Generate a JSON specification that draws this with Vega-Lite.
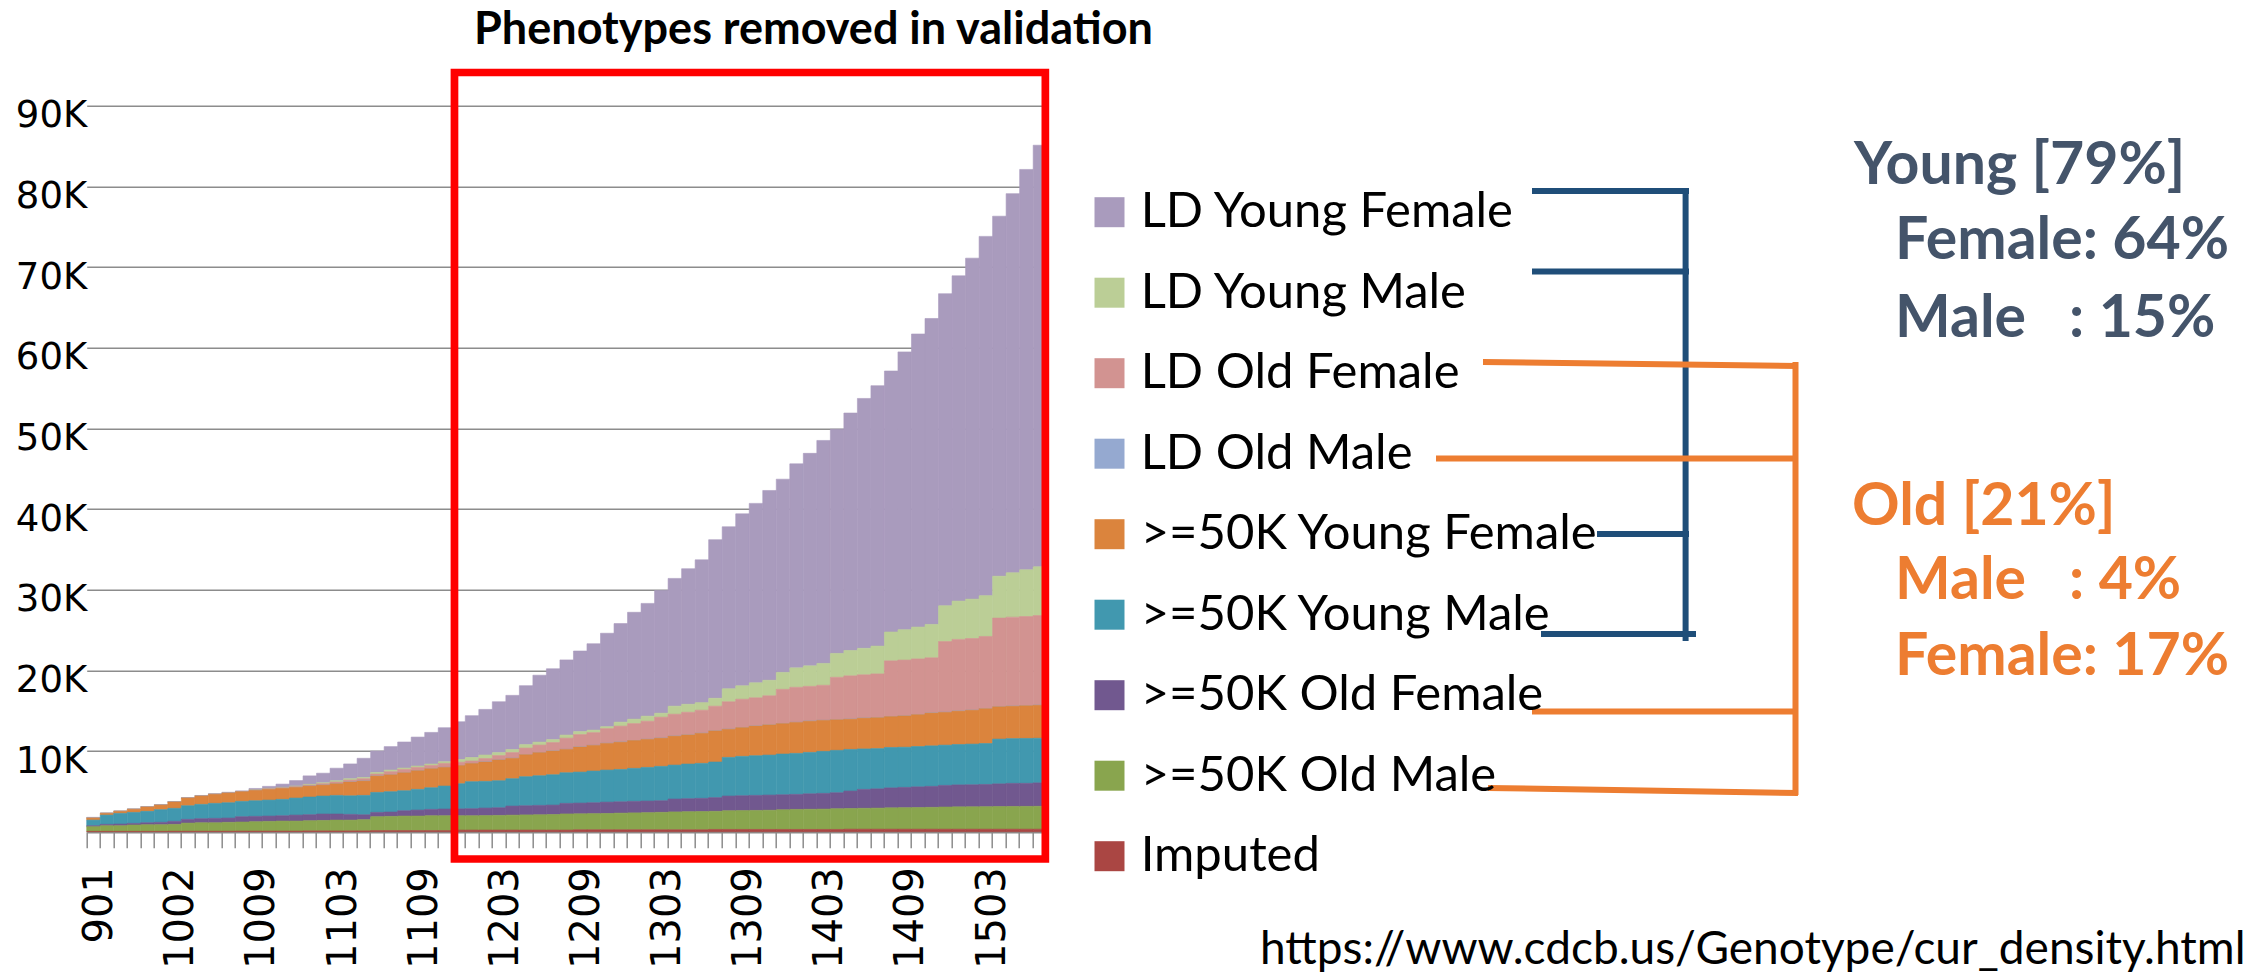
{
  "$schema": "https://vega.github.io/schema/vega-lite/v6.json",
  "width": 960,
  "height": 726,
  "autosize": {"type": "none"},
  "padding": {"left": 86.7, "top": 105.7, "right": 1207.3, "bottom": 143.3},
  "background": "white",
  "config": {"view": {"stroke": null}},
  "title": {"text": "Phenotypes removed in validation", "font": "Lato", "fontSize": 45, "fontWeight": "bold", "color": "#000000", "anchor": "start", "align": "center", "dx": 726.8, "offset": 16, "frame": "group"},
  "datasets": {
    "evals": [
      {"p":901,"LD Young Female":50,"LD Young Male":20,"LD Old Female":15,"LD Old Male":5,">=50K Young Female":250,">=50K Young Male":700,">=50K Old Female":120,">=50K Old Male":580,"Imputed":40},
      {"p":903,"LD Young Female":20,"LD Young Male":10,"LD Old Female":5,"LD Old Male":5,">=50K Young Female":210,">=50K Young Male":1150,">=50K Old Female":170,">=50K Old Male":700,"Imputed":40},
      {"p":905,"LD Young Female":30,"LD Young Male":10,"LD Old Female":5,"LD Old Male":5,">=50K Young Female":250,">=50K Young Male":1320,">=50K Old Female":210,">=50K Old Male":700,"Imputed":40},
      {"p":908,"LD Young Female":30,"LD Young Male":10,"LD Old Female":5,"LD Old Male":5,">=50K Young Female":380,">=50K Young Male":1360,">=50K Old Female":200,">=50K Old Male":790,"Imputed":40},
      {"p":910,"LD Young Female":30,"LD Young Male":10,"LD Old Female":5,"LD Old Male":5,">=50K Young Female":540,">=50K Young Male":1410,">=50K Old Female":240,">=50K Old Male":830,"Imputed":40},
      {"p":912,"LD Young Female":40,"LD Young Male":10,"LD Old Female":5,"LD Old Male":5,">=50K Young Female":570,">=50K Young Male":1570,">=50K Old Female":290,">=50K Old Male":830,"Imputed":40},
      {"p":1002,"LD Young Female":40,"LD Young Male":10,"LD Old Female":5,"LD Old Male":5,">=50K Young Female":790,">=50K Young Male":1610,">=50K Old Female":370,">=50K Old Male":850,"Imputed":60},
      {"p":1003,"LD Young Female":40,"LD Young Male":10,"LD Old Female":5,"LD Old Male":5,">=50K Young Female":950,">=50K Young Male":1690,">=50K Old Female":460,">=50K Old Male":1010,"Imputed":60},
      {"p":1004,"LD Young Female":50,"LD Young Male":10,"LD Old Female":5,"LD Old Male":5,">=50K Young Female":1030,">=50K Young Male":1780,">=50K Old Female":500,">=50K Old Male":1050,"Imputed":60},
      {"p":1005,"LD Young Female":60,"LD Young Male":10,"LD Old Female":5,"LD Old Male":5,">=50K Young Female":1120,">=50K Young Male":1860,">=50K Old Female":540,">=50K Old Male":1050,"Imputed":60},
      {"p":1006,"LD Young Female":80,"LD Young Male":10,"LD Old Female":5,"LD Old Male":5,">=50K Young Female":1200,">=50K Young Male":1900,">=50K Old Female":530,">=50K Old Male":1100,"Imputed":60},
      {"p":1008,"LD Young Female":70,"LD Young Male":20,"LD Old Female":5,"LD Old Male":5,">=50K Young Female":1200,">=50K Young Male":1900,">=50K Old Female":660,">=50K Old Male":1120,"Imputed":80},
      {"p":1009,"LD Young Female":180,"LD Young Male":30,"LD Old Female":25,"LD Old Male":5,">=50K Young Female":1280,">=50K Young Male":1940,">=50K Old Female":660,">=50K Old Male":1160,"Imputed":80},
      {"p":1010,"LD Young Female":240,"LD Young Male":50,"LD Old Female":75,"LD Old Male":5,">=50K Young Female":1330,">=50K Young Male":1980,">=50K Old Female":660,">=50K Old Male":1200,"Imputed":80},
      {"p":1011,"LD Young Female":400,"LD Young Male":60,"LD Old Female":65,"LD Old Male":5,">=50K Young Female":1360,">=50K Young Male":2030,">=50K Old Female":660,">=50K Old Male":1240,"Imputed":80},
      {"p":1012,"LD Young Female":680,"LD Young Male":80,"LD Old Female":85,"LD Old Male":5,">=50K Young Female":1320,">=50K Young Male":2110,">=50K Old Female":740,">=50K Old Male":1240,"Imputed":80},
      {"p":1101,"LD Young Female":1050,"LD Young Male":90,"LD Old Female":115,"LD Old Male":5,">=50K Young Female":1360,">=50K Young Male":2190,">=50K Old Female":750,">=50K Old Male":1260,"Imputed":100},
      {"p":1102,"LD Young Female":1180,"LD Young Male":120,"LD Old Female":165,"LD Old Male":5,">=50K Young Female":1360,">=50K Young Male":2230,">=50K Old Female":790,">=50K Old Male":1300,"Imputed":100},
      {"p":1103,"LD Young Female":1550,"LD Young Male":160,"LD Old Female":205,"LD Old Male":5,">=50K Young Female":1450,">=50K Young Male":2310,">=50K Old Female":750,">=50K Old Male":1340,"Imputed":100},
      {"p":1104,"LD Young Female":1830,"LD Young Male":170,"LD Old Female":235,"LD Old Male":5,">=50K Young Female":1710,">=50K Young Male":2300,">=50K Old Female":710,">=50K Old Male":1340,"Imputed":100},
      {"p":1105,"LD Young Female":2370,"LD Young Male":160,"LD Old Female":285,"LD Old Male":5,">=50K Young Female":1780,">=50K Young Male":2400,">=50K Old Female":610,">=50K Old Male":1390,"Imputed":100},
      {"p":1106,"LD Young Female":2650,"LD Young Male":200,"LD Old Female":245,"LD Old Male":5,">=50K Young Female":2030,">=50K Young Male":2480,">=50K Old Female":530,">=50K Old Male":1720,"Imputed":140},
      {"p":1107,"LD Young Female":2910,"LD Young Male":200,"LD Old Female":375,"LD Old Male":5,">=50K Young Female":2100,">=50K Young Male":2520,">=50K Old Female":540,">=50K Old Male":1760,"Imputed":140},
      {"p":1108,"LD Young Female":3230,"LD Young Male":160,"LD Old Female":415,"LD Old Male":5,">=50K Young Female":2230,">=50K Young Male":2480,">=50K Old Female":660,">=50K Old Male":1800,"Imputed":140},
      {"p":1109,"LD Young Female":3590,"LD Young Male":170,"LD Old Female":405,"LD Old Male":5,">=50K Young Female":2310,">=50K Young Male":2570,">=50K Old Female":740,">=50K Old Male":1800,"Imputed":140},
      {"p":1110,"LD Young Female":3920,"LD Young Male":170,"LD Old Female":405,"LD Old Male":5,">=50K Young Female":2360,">=50K Young Male":2680,">=50K Old Female":790,">=50K Old Male":1840,"Imputed":140},
      {"p":1111,"LD Young Female":4210,"LD Young Male":210,"LD Old Female":495,"LD Old Male":5,">=50K Young Female":2310,">=50K Young Male":2850,">=50K Old Female":830,">=50K Old Male":1840,"Imputed":140},
      {"p":1112,"LD Young Female":4680,"LD Young Male":330,"LD Old Female":415,"LD Old Male":5,">=50K Young Female":2250,">=50K Young Male":3120,">=50K Old Female":850,">=50K Old Male":1780,"Imputed":200},
      {"p":1201,"LD Young Female":5180,"LD Young Male":430,"LD Old Female":315,"LD Old Male":5,">=50K Young Female":2250,">=50K Young Male":3350,">=50K Old Female":870,">=50K Old Male":1780,"Imputed":200},
      {"p":1202,"LD Young Female":5650,"LD Young Male":440,"LD Old Female":425,"LD Old Male":5,">=50K Young Female":2400,">=50K Young Male":3310,">=50K Old Female":930,">=50K Old Male":1800,"Imputed":200},
      {"p":1203,"LD Young Female":6300,"LD Young Male":370,"LD Old Female":535,"LD Old Male":5,">=50K Young Female":2580,">=50K Young Male":3350,">=50K Old Female":950,">=50K Old Male":1820,"Imputed":200},
      {"p":1204,"LD Young Female":6710,"LD Young Male":380,"LD Old Female":705,"LD Old Male":5,">=50K Young Female":2530,">=50K Young Male":3390,">=50K Old Female":1130,">=50K Old Male":1850,"Imputed":200},
      {"p":1205,"LD Young Female":7300,"LD Young Male":430,"LD Old Female":815,"LD Old Male":5,">=50K Young Female":2730,">=50K Young Male":3600,">=50K Old Female":1140,">=50K Old Male":1880,"Imputed":200},
      {"p":1206,"LD Young Female":8290,"LD Young Male":370,"LD Old Female":935,"LD Old Male":5,">=50K Young Female":2860,">=50K Young Male":3680,">=50K Old Female":1160,">=50K Old Male":1900,"Imputed":200},
      {"p":1207,"LD Young Female":8780,"LD Young Male":370,"LD Old Female":1045,"LD Old Male":5,">=50K Young Female":2940,">=50K Young Male":3760,">=50K Old Female":1170,">=50K Old Male":1930,"Imputed":200},
      {"p":1208,"LD Young Female":9320,"LD Young Male":380,"LD Old Female":1395,"LD Old Male":5,">=50K Young Female":2890,">=50K Young Male":3800,">=50K Old Female":1310,">=50K Old Male":2000,"Imputed":200},
      {"p":1209,"LD Young Female":9990,"LD Young Male":370,"LD Old Female":1535,"LD Old Male":5,">=50K Young Female":3110,">=50K Young Male":3840,">=50K Old Female":1330,">=50K Old Male":1980,"Imputed":240},
      {"p":1210,"LD Young Female":10710,"LD Young Male":310,"LD Old Female":1575,"LD Old Male":5,">=50K Young Female":3180,">=50K Young Male":3930,">=50K Old Female":1350,">=50K Old Male":2000,"Imputed":240},
      {"p":1211,"LD Young Female":11580,"LD Young Male":240,"LD Old Female":1825,"LD Old Male":5,">=50K Young Female":3310,">=50K Young Male":3970,">=50K Old Female":1410,">=50K Old Male":2020,"Imputed":240},
      {"p":1212,"LD Young Female":12220,"LD Young Male":490,"LD Old Female":1985,"LD Old Male":5,">=50K Young Female":3380,">=50K Young Male":4010,">=50K Old Female":1410,">=50K Old Male":2060,"Imputed":240},
      {"p":1301,"LD Young Female":13250,"LD Young Male":550,"LD Old Female":2095,"LD Old Male":5,">=50K Young Female":3450,">=50K Young Male":4090,">=50K Old Female":1430,">=50K Old Male":2090,"Imputed":240},
      {"p":1302,"LD Young Female":13980,"LD Young Male":620,"LD Old Female":2245,"LD Old Male":5,">=50K Young Female":3480,">=50K Young Male":4170,">=50K Old Female":1440,">=50K Old Male":2120,"Imputed":240},
      {"p":1303,"LD Young Female":15210,"LD Young Male":490,"LD Old Female":2595,"LD Old Male":5,">=50K Young Female":3500,">=50K Young Male":4260,">=50K Old Female":1440,">=50K Old Male":2160,"Imputed":240},
      {"p":1304,"LD Young Female":15840,"LD Young Male":990,"LD Old Female":2715,"LD Old Male":5,">=50K Young Female":3590,">=50K Young Male":4210,">=50K Old Female":1600,">=50K Old Male":2210,"Imputed":240},
      {"p":1305,"LD Young Female":16800,"LD Young Male":990,"LD Old Female":2805,"LD Old Male":5,">=50K Young Female":3610,">=50K Young Male":4300,">=50K Old Female":1610,">=50K Old Male":2240,"Imputed":240},
      {"p":1306,"LD Young Female":17700,"LD Young Male":940,"LD Old Female":2855,"LD Old Male":5,">=50K Young Female":3730,">=50K Young Male":4340,">=50K Old Female":1630,">=50K Old Male":2260,"Imputed":240},
      {"p":1307,"LD Young Female":19660,"LD Young Male":980,"LD Old Female":3055,"LD Old Male":5,">=50K Young Female":3860,">=50K Young Male":4420,">=50K Old Female":1690,">=50K Old Male":2250,"Imputed":280},
      {"p":1308,"LD Young Female":20080,"LD Young Male":1610,"LD Old Female":3405,"LD Old Male":5,">=50K Young Female":3490,">=50K Young Male":4790,">=50K Old Female":1820,">=50K Old Male":2320,"Imputed":280},
      {"p":1309,"LD Young Female":21310,"LD Young Male":1670,"LD Old Female":3515,"LD Old Male":5,">=50K Young Female":3560,">=50K Young Male":4880,">=50K Old Female":1840,">=50K Old Male":2340,"Imputed":280},
      {"p":1310,"LD Young Female":22240,"LD Young Male":1860,"LD Old Female":3495,"LD Old Male":5,">=50K Young Female":3680,">=50K Young Male":4920,">=50K Old Female":1860,">=50K Old Male":2360,"Imputed":280},
      {"p":1311,"LD Young Female":23530,"LD Young Male":1920,"LD Old Female":3595,"LD Old Male":5,">=50K Young Female":3750,">=50K Young Male":4960,">=50K Old Female":1880,">=50K Old Male":2380,"Imputed":280},
      {"p":1312,"LD Young Female":23950,"LD Young Male":2100,"LD Old Female":4245,"LD Old Male":5,">=50K Young Female":3770,">=50K Young Male":5050,">=50K Old Female":1860,">=50K Old Male":2440,"Imputed":280},
      {"p":1401,"LD Young Female":25290,"LD Young Male":2410,"LD Old Female":4345,"LD Old Male":5,">=50K Young Female":3840,">=50K Young Male":5080,">=50K Old Female":1870,">=50K Old Male":2480,"Imputed":280},
      {"p":1402,"LD Young Female":26340,"LD Young Male":2540,"LD Old Female":4315,"LD Old Male":5,">=50K Young Female":3870,">=50K Young Male":5130,">=50K Old Female":1920,">=50K Old Male":2500,"Imputed":280},
      {"p":1403,"LD Young Female":27640,"LD Young Male":2710,"LD Old Female":4345,"LD Old Male":5,">=50K Young Female":3840,">=50K Young Male":5210,">=50K Old Female":1950,">=50K Old Male":2520,"Imputed":280},
      {"p":1404,"LD Young Female":27800,"LD Young Male":2960,"LD Old Female":5255,"LD Old Male":5,">=50K Young Female":3800,">=50K Young Male":5250,">=50K Old Female":1980,">=50K Old Male":2570,"Imputed":280},
      {"p":1405,"LD Young Female":29430,"LD Young Male":3150,"LD Old Female":5365,"LD Old Male":5,">=50K Young Female":3750,">=50K Young Male":5160,">=50K Old Female":2160,">=50K Old Male":2570,"Imputed":310},
      {"p":1406,"LD Young Female":30980,"LD Young Male":3280,"LD Old Female":5365,"LD Old Male":5,">=50K Young Female":3820,">=50K Young Male":5010,">=50K Old Female":2350,">=50K Old Male":2590,"Imputed":310},
      {"p":1407,"LD Young Female":32280,"LD Young Male":3450,"LD Old Female":5425,"LD Old Male":5,">=50K Young Female":3830,">=50K Young Male":4990,">=50K Old Female":2390,">=50K Old Male":2610,"Imputed":310},
      {"p":1408,"LD Young Female":32350,"LD Young Male":3580,"LD Old Female":6905,"LD Old Male":5,">=50K Young Female":3830,">=50K Young Male":5010,">=50K Old Female":2470,">=50K Old Male":2650,"Imputed":310},
      {"p":1409,"LD Young Female":34440,"LD Young Male":3760,"LD Old Female":6915,"LD Old Male":5,">=50K Young Female":3890,">=50K Young Male":4980,">=50K Old Female":2510,">=50K Old Male":2670,"Imputed":310},
      {"p":1410,"LD Young Female":36330,"LD Young Male":3950,"LD Old Female":6905,"LD Old Male":5,">=50K Young Female":3950,">=50K Young Male":5000,">=50K Old Female":2560,">=50K Old Male":2690,"Imputed":310},
      {"p":1411,"LD Young Female":37920,"LD Young Male":4140,"LD Old Female":6845,"LD Old Male":5,">=50K Young Female":4070,">=50K Young Male":5020,">=50K Old Female":2600,">=50K Old Male":2710,"Imputed":310},
      {"p":1412,"LD Young Female":38680,"LD Young Male":4440,"LD Old Female":8765,"LD Old Male":5,">=50K Young Female":4070,">=50K Young Male":4990,">=50K Old Female":2680,">=50K Old Male":2750,"Imputed":310},
      {"p":1501,"LD Young Female":40320,"LD Young Male":4750,"LD Old Female":8885,"LD Old Male":5,">=50K Young Female":4140,">=50K Young Male":5010,">=50K Old Female":2720,">=50K Old Male":2770,"Imputed":310},
      {"p":1502,"LD Young Female":42270,"LD Young Male":4880,"LD Old Female":8885,"LD Old Male":5,">=50K Young Female":4200,">=50K Young Male":5040,">=50K Old Female":2730,">=50K Old Male":2780,"Imputed":310},
      {"p":1503,"LD Young Female":44540,"LD Young Male":5060,"LD Old Female":8945,"LD Old Male":5,">=50K Young Female":4320,">=50K Young Male":5070,">=50K Old Female":2760,">=50K Old Male":2790,"Imputed":310},
      {"p":1504,"LD Young Female":44630,"LD Young Male":5190,"LD Old Female":10985,"LD Old Male":5,">=50K Young Female":4010,">=50K Young Male":5550,">=50K Old Female":2810,">=50K Old Male":2810,"Imputed":310},
      {"p":1505,"LD Young Female":47000,"LD Young Male":5500,"LD Old Female":11035,"LD Old Male":5,">=50K Young Female":4020,">=50K Young Male":5550,">=50K Old Female":2860,">=50K Old Male":2820,"Imputed":310},
      {"p":1506,"LD Young Female":49630,"LD Young Male":5800,"LD Old Female":11045,"LD Old Male":5,">=50K Young Female":4060,">=50K Young Male":5560,">=50K Old Female":2860,">=50K Old Male":2830,"Imputed":310},
      {"p":1507,"LD Young Female":52260,"LD Young Male":6050,"LD Old Female":11105,"LD Old Male":5,">=50K Young Female":4100,">=50K Young Male":5530,">=50K Old Female":2900,">=50K Old Male":2840,"Imputed":310}
    ],
    "brackets": [
      {"group":"young","x":1532,"x2":1689,"y":191,"y2":191},
      {"group":"young","x":1532,"x2":1689,"y":271.5,"y2":271.5},
      {"group":"young","x":1597,"x2":1689,"y":534,"y2":534},
      {"group":"young","x":1541,"x2":1696,"y":634,"y2":634},
      {"group":"young","x":1685.6,"x2":1685.6,"y":188,"y2":641},
      {"group":"old","x":1483,"x2":1798,"y":362,"y2":366},
      {"group":"old","x":1436,"x2":1798,"y":458.5,"y2":458.5},
      {"group":"old","x":1532,"x2":1798,"y":711.5,"y2":711.5},
      {"group":"old","x":1488,"x2":1798,"y":788,"y2":793},
      {"group":"old","x":1795.5,"x2":1795.5,"y":362,"y2":795}
    ],
    "notes": [
      {"group":"young","t":"Young [79%]","x":1854,"y":166},
      {"group":"young","t":"Female: 64%","x":1895,"y":241},
      {"group":"young","t":"Male\u00a0\u00a0\u00a0: 15%","x":1895,"y":319},
      {"group":"old","t":"Old [21%]","x":1852,"y":507},
      {"group":"old","t":"Male\u00a0\u00a0\u00a0: 4%","x":1895,"y":581},
      {"group":"old","t":"Female: 17%","x":1895,"y":657},
      {"group":"source","t":"https://www.cdcb.us/Genotype/cur_density.html","x":1260,"y":964}
    ]
  },
  "layer": [
    {
      "layer": [
        {
          "data": {"name": "evals"},
          "transform": [
            {"fold": ["LD Young Female","LD Young Male","LD Old Female","LD Old Male",">=50K Young Female",">=50K Young Male",">=50K Old Female",">=50K Old Male","Imputed"], "as": ["series","count"]},
            {"calculate": "indexof(['Imputed','>=50K Old Male','>=50K Old Female','>=50K Young Male','>=50K Young Female','LD Old Male','LD Old Female','LD Young Male','LD Young Female'], datum.series)", "as": "stack_rank"}
          ],
          "mark": {"type": "bar", "strokeWidth": 0.6},
          "encoding": {
            "x": {
              "field": "p", "type": "ordinal",
              "scale": {"type": "band", "paddingInner": 0, "paddingOuter": 0},
              "axis": {
                "title": null, "bandPosition": 0, "labelOffset": 6.76, "labelAngle": -90,
                "labelFont": "DejaVu Sans", "labelFontSize": 40, "labelColor": "#000000", "labelPadding": 19,
                "labelOverlap": false, "labelBound": false, "labelFlush": false,
                "labelExpr": "indexof([901,1002,1009,1103,1109,1203,1209,1303,1309,1403,1409,1503], datum.value) >= 0 ? datum.label : ''",
                "ticks": true, "tickSize": 16, "tickColor": "#8C8C8C", "tickWidth": 1.5,
                "domainColor": "#8C8C8C", "domainWidth": 2.5, "grid": false
              }
            },
            "y": {
              "field": "count", "type": "quantitative", "stack": "zero",
              "scale": {"domain": [0, 90000], "nice": false},
              "axis": {
                "title": null, "values": [10000,20000,30000,40000,50000,60000,70000,80000,90000],
                "labelExpr": "(datum.value / 1000) + 'K'",
                "labelFont": "DejaVu Sans", "labelFontSize": 37, "labelColor": "#000000",
                "labelPadding": 0, "labelOffset": 10, "ticks": false, "tickSize": 0, "domain": false,
                "grid": true, "gridColor": "#8C8C8C", "gridWidth": 1.5
              }
            },
            "color": {
              "field": "series", "type": "nominal",
              "scale": {
                "domain": ["LD Young Female","LD Young Male","LD Old Female","LD Old Male",">=50K Young Female",">=50K Young Male",">=50K Old Female",">=50K Old Male","Imputed"],
                "range": ["#A99BBD","#BBCE96","#D29391","#95A9D0","#DB843D","#4198AF","#71588F","#89A54E","#AA4643"]
              },
              "legend": {
                "title": null, "orient": "none", "legendX": 998.3, "legendY": 82, "direction": "vertical",
                "symbolType": "square", "symbolSize": 900, "symbolStrokeWidth": 0, "symbolOpacity": 1,
                "labelFont": "Lato", "labelFontSize": 49, "labelColor": "#000000", "labelOffset": 6.7,
                "labelLimit": 1000, "rowPadding": 30.5, "padding": 0
              }
            },
            "stroke": {
              "field": "series", "type": "nominal",
              "scale": {
                "domain": ["LD Young Female","LD Young Male","LD Old Female","LD Old Male",">=50K Young Female",">=50K Young Male",">=50K Old Female",">=50K Old Male","Imputed"],
                "range": ["#A99BBD","#BBCE96","#D29391","#95A9D0","#DB843D","#4198AF","#71588F","#89A54E","#AA4643"]
              },
              "legend": null
            },
            "order": {"field": "stack_rank", "type": "quantitative"}
          }
        },
        {
          "data": {"values": [{}]},
          "mark": {"type": "rect", "filled": false, "stroke": "#FF0000", "strokeWidth": 7.7},
          "encoding": {
            "x": {"datum": 1112, "type": "ordinal", "bandPosition": 0.2, "title": null},
            "x2": {"datum": 1507, "bandPosition": 0.9},
            "y": {"datum": 94116, "type": "quantitative", "title": null},
            "y2": {"datum": -3384}
          }
        }
      ]
    },
    {
      "layer": [
        {
          "data": {"name": "brackets"},
          "transform": [{"filter": "datum.group === 'young'"}],
          "mark": {"type": "rule", "stroke": "#1F4E79", "strokeWidth": 6},
          "encoding": {
            "x": {"field": "x", "type": "quantitative", "scale": {"domain": [86.7, 1046.7], "nice": false, "zero": false}, "axis": null},
            "x2": {"field": "x2"},
            "y": {"field": "y", "type": "quantitative", "scale": {"domain": [105.7, 831.7], "nice": false, "zero": false, "reverse": true}, "axis": null},
            "y2": {"field": "y2"}
          }
        },
        {
          "data": {"name": "brackets"},
          "transform": [{"filter": "datum.group === 'old'"}],
          "mark": {"type": "rule", "stroke": "#ED7D31", "strokeWidth": 6},
          "encoding": {
            "x": {"field": "x", "type": "quantitative", "scale": {"domain": [86.7, 1046.7], "nice": false, "zero": false}, "axis": null},
            "x2": {"field": "x2"},
            "y": {"field": "y", "type": "quantitative", "scale": {"domain": [105.7, 831.7], "nice": false, "zero": false, "reverse": true}, "axis": null},
            "y2": {"field": "y2"}
          }
        },
        {
          "data": {"name": "notes"},
          "transform": [{"filter": "datum.group === 'young'"}],
          "mark": {"type": "text", "align": "left", "baseline": "middle", "font": "Lato", "fontSize": 59, "fontWeight": "bold", "color": "#44546A"},
          "encoding": {
            "x": {"field": "x", "type": "quantitative", "scale": {"domain": [86.7, 1046.7], "nice": false, "zero": false}, "axis": null},
            "y": {"field": "y", "type": "quantitative", "scale": {"domain": [105.7, 831.7], "nice": false, "zero": false, "reverse": true}, "axis": null},
            "text": {"field": "t"}
          }
        },
        {
          "data": {"name": "notes"},
          "transform": [{"filter": "datum.group === 'old'"}],
          "mark": {"type": "text", "align": "left", "baseline": "middle", "font": "Lato", "fontSize": 59, "fontWeight": "bold", "color": "#ED7D31"},
          "encoding": {
            "x": {"field": "x", "type": "quantitative", "scale": {"domain": [86.7, 1046.7], "nice": false, "zero": false}, "axis": null},
            "y": {"field": "y", "type": "quantitative", "scale": {"domain": [105.7, 831.7], "nice": false, "zero": false, "reverse": true}, "axis": null},
            "text": {"field": "t"}
          }
        },
        {
          "data": {"name": "notes"},
          "transform": [{"filter": "datum.group === 'source'"}],
          "mark": {"type": "text", "align": "left", "baseline": "alphabetic", "font": "Lato", "fontSize": 46, "color": "#000000"},
          "encoding": {
            "x": {"field": "x", "type": "quantitative", "scale": {"domain": [86.7, 1046.7], "nice": false, "zero": false}, "axis": null},
            "y": {"field": "y", "type": "quantitative", "scale": {"domain": [105.7, 831.7], "nice": false, "zero": false, "reverse": true}, "axis": null},
            "text": {"field": "t"}
          }
        }
      ]
    }
  ],
  "resolve": {"scale": {"x": "independent", "y": "independent"}}
}
